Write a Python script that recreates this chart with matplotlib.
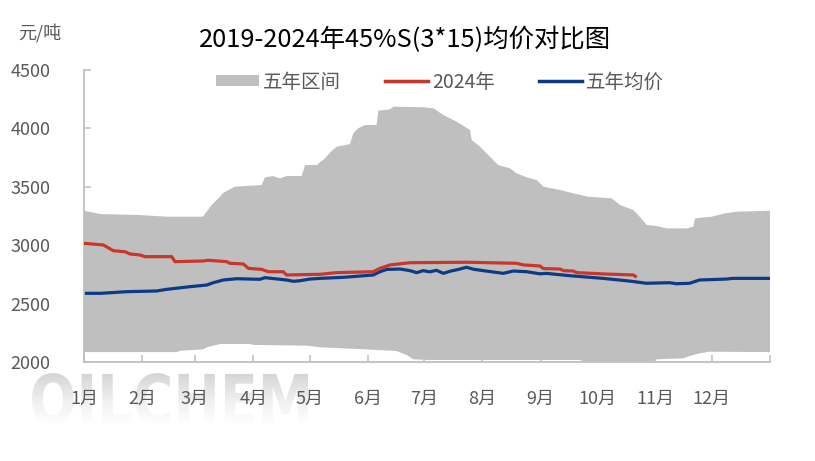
import numpy as np
import matplotlib
matplotlib.use("Agg")
import matplotlib.pyplot as plt
from matplotlib.textpath import TextPath
from matplotlib.font_manager import FontProperties
from matplotlib.patches import PathPatch, Patch
from matplotlib.lines import Line2D
from matplotlib.transforms import Affine2D

plt.rcParams['font.family'] = ['Noto Sans CJK SC', 'DejaVu Sans']

# ---------------- data ----------------
title = "2019-2024年45%S(3*15)均价对比图"
unit = "元/吨"
month_labels = ["1月", "2月", "3月", "4月", "5月", "6月", "7月", "8月", "9月", "10月", "11月", "12月"]
month_starts = [0, 31, 59, 90, 120, 151, 181, 212, 243, 273, 304, 334, 365]
yticks = [2000, 2500, 3000, 3500, 4000, 4500]

# five-year range upper edge (day of year, price)
upper_day = [0, 8.5, 29.8, 44.2, 63.3, 67.9, 72.4, 74, 80.3, 94.5, 96.3, 100.6, 104.3, 107.8, 115.8,
             117.6, 123.8, 128.2, 131.3, 134.5, 141.5, 143.3, 145.9, 149.5, 155.7, 156.6, 162.8,
             164.6, 180.5, 185.9, 191.2, 198.3, 205.4, 206.3, 210.7, 215.1, 220.4, 226.7, 230.2,
             235.5, 240.9, 244.4, 253.3, 260.3, 268.3, 280.8, 285.2, 292.3, 294.9, 299.4, 304.7,
             310, 320.7, 324.2, 325.1, 334, 341.1, 347.3, 365]
upper_val = [3295, 3267, 3258, 3244, 3244, 3344, 3415, 3447, 3501, 3515, 3581, 3592, 3572, 3592, 3592,
             3686, 3686, 3743, 3800, 3843, 3866, 3958, 4001, 4029, 4029, 4152, 4163,
             4186, 4181, 4172, 4115, 4057, 3986, 3901, 3843, 3772, 3686, 3658, 3615,
             3581, 3558, 3501, 3473, 3444, 3415, 3401, 3344, 3301, 3258, 3173, 3164,
             3144, 3144, 3158, 3230, 3244, 3273, 3287, 3295]

# five-year range lower edge
lower_day = [0, 49.4, 51.1, 63.3, 65.3, 70.6, 72.4, 88.3, 90.1, 118.5, 125.6, 150.4, 166.3, 171.7,
             175.2, 184, 264, 265.5, 302.7, 304.5, 318.7, 322.2, 327.5, 332.8, 365]
lower_val = [2085, 2085, 2096, 2108, 2126, 2146, 2154, 2154, 2146, 2140, 2126, 2108, 2094, 2060,
             2023, 2017, 2017, 2005, 2005, 2023, 2031, 2051, 2074, 2088, 2085]

# 2024 price
y2024_day = [0, 10.3, 15.6, 21.8, 24.5, 29.8, 32.4, 46.7, 48.4, 63.5, 66.1, 75.9, 77.7, 84.8, 87.4,
             94.5, 98.1, 106, 107.8, 125.6, 134.4, 153.9, 157.5, 162.8, 173.5, 203.8, 230.2, 233.8,
             242.6, 244.4, 253.3, 255.1, 260.3, 262.2, 278.1, 292.3, 294.1]
y2024_val = [3016, 3002, 2953, 2944, 2925, 2916, 2902, 2902, 2859, 2865, 2871, 2859, 2845, 2839, 2802,
             2793, 2773, 2773, 2745, 2751, 2765, 2773, 2802, 2831, 2850, 2854, 2845, 2831,
             2822, 2800, 2796, 2782, 2779, 2765, 2753, 2745, 2725]

# five-year average
avg_day = [0, 8.9, 22.7, 38.7, 44, 56.4, 65.3, 68.8, 74.1, 81.3, 93.6, 96.3, 107.8, 111.4, 114.9,
           120.2, 125.6, 138, 153.9, 157.5, 161.1, 168.1, 173.5, 177, 180.5, 184, 187.5, 191.2,
           195, 198.5, 203.6, 207, 212.5, 223.1, 228.4, 235.5, 242.6, 245.9, 258.4, 276.1, 290.3,
           299.2, 311.6, 315.1, 322.2, 327.5, 341.7, 345.2, 365]
avg_val = [2588, 2588, 2602, 2608, 2622, 2645, 2659, 2679, 2702, 2713, 2708, 2722, 2702, 2691, 2696,
           2710, 2716, 2725, 2745, 2773, 2793, 2796, 2782, 2765, 2782, 2772, 2785, 2759,
           2778, 2790, 2811, 2795, 2782, 2759, 2779, 2773, 2755, 2759, 2739, 2716, 2693,
           2674, 2679, 2670, 2674, 2702, 2710, 2716, 2716]

legend_labels = ["五年区间", "2024年", "五年均价"]

# ---------------- style ----------------
band_color = "#bfbfbf"
red = "#c9372c"
blue = "#0c3a85"
axis_color = "#bfbfbf"
text_color = "#595959"

W, H = 815, 461
fig = plt.figure(figsize=(W / 100, H / 100), dpi=100)

# background axes for watermark
bg = fig.add_axes([0, 0, 1, 1], zorder=0)
bg.set_xlim(0, W)
bg.set_ylim(0, H)
bg.axis("off")
tp = TextPath((0, 0), "OILCHEM", size=100, prop=FontProperties(family="DejaVu Sans", weight="bold"))
ext = tp.get_extents()
x0, x1, ytop, ybot = 32, 308, 373, 425
tr = Affine2D().translate(-ext.x0, -ext.y0).scale((x1 - x0) / ext.width, (ybot - ytop) / ext.height) \
    .translate(x0, H - ybot)
path = tr.transform_path(tp)
patch = PathPatch(path, facecolor="none", edgecolor="none")
bg.add_patch(patch)
grad = np.linspace(0, 1, 100).reshape(-1, 1)
im = bg.imshow(grad, extent=(x0, x1, H - ybot, H - ytop), origin="upper", cmap="Greys_r",
               vmin=-2.6, vmax=1.0, aspect="auto", zorder=1)
im.set_clip_path(patch)

# main axes
ax = fig.add_axes([84 / W, (H - 362) / H, (770 - 84) / W, (362 - 70) / H], zorder=1)
ax.set_facecolor("none")
ax.fill(np.concatenate([upper_day, lower_day[::-1]]),
        np.concatenate([upper_val, lower_val[::-1]]),
        color=band_color, lw=0, zorder=1)
ax.plot(y2024_day, y2024_val, color=red, lw=2.3, zorder=3, solid_capstyle="butt")
ax.plot(avg_day, avg_val, color=blue, lw=2.3, zorder=2, solid_capstyle="butt")

ax.set_xlim(0, 365)
ax.set_ylim(2000, 4500)
ax.set_xticks(month_starts)
ax.set_xticklabels(month_labels + [""])
ax.set_yticks(yticks)
ax.set_yticklabels([str(v) for v in yticks])
for s in ["top", "right"]:
    ax.spines[s].set_visible(False)
for s in ["left", "bottom"]:
    ax.spines[s].set_color(axis_color)
    ax.spines[s].set_linewidth(1.3)
ax.tick_params(axis="both", direction="in", length=5, width=1.1, color=axis_color,
               labelcolor=text_color, labelsize=13)
ax.tick_params(axis="y", pad=24)
ax.tick_params(axis="x", pad=20)

handles = [Patch(facecolor=band_color, edgecolor="none"),
           Line2D([], [], color=red, lw=2.5),
           Line2D([], [], color=blue, lw=2.5)]
leg = fig.legend(handles, legend_labels, loc="center", bbox_to_anchor=(440 / W, 1 - 82 / H),
                 ncol=3, frameon=False, fontsize=14, handlelength=2.2, handleheight=0.5,
                 handletextpad=0.2, columnspacing=2.3, labelcolor=text_color)

fig.text(405 / W, 1 - 40 / H, title, ha="center", va="center", fontsize=18.3, color="black")
fig.text(18 / W, 1 - 33 / H, unit, ha="left", va="center", fontsize=13, color=text_color)

fig.savefig("out.png", dpi=100)
